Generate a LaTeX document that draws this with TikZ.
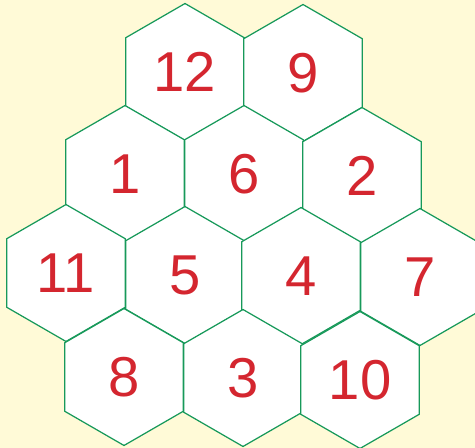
\documentclass[tikz,border=0pt]{standalone}
\usepackage{fontspec}
\setmainfont{Liberation Sans}
\usepackage{xcolor}
\usepackage{tikz}
\usetikzlibrary{shapes.geometric}

\definecolor{paper}{HTML}{FFFAD7}
\definecolor{hexgreen}{HTML}{17995A}
\definecolor{numred}{HTML}{D4262F}

\tikzset{
    hexcell/.style={regular polygon, regular polygon sides=6, shape border rotate=30,
        minimum size=2.74cm, inner sep=0pt, outer sep=0pt,
        draw=hexgreen, line width=0.7pt, fill=white,
        text=numred, font=\fontsize{32}{32}\selectfont}
}

\begin{document}
\begin{tikzpicture}[x=0.02cm,y=-0.02cm]
    \fill[paper] (0,0) rectangle (475,448);
    \useasboundingbox (0,0) rectangle (475,448);
    \clip (0,0) rectangle (475,448);

    % top row
    \node[hexcell] (c12) at (185,72) {12};
    \node[hexcell] (c9)  at (303,73) {9};
    % second row
    \foreach \n/\x/\y in {1/125/174, 6/244/174, 2/362/176} {
        \node[hexcell] (c\n) at (\x,\y) {\n};
    }
    % third row
    \foreach \n/\x/\y in {11/66/273, 5/185/275, 4/301/276, 7/420/277} {
        \node[hexcell] (c\n) at (\x,\y) {\n};
    }
    % bottom row
    \foreach \n/\x/\y in {8/124/377, 3/243/378, 10/360/380} {
        \node[hexcell] (c\n) at (\x,\y) {\n};
    }
\end{tikzpicture}
\end{document}
